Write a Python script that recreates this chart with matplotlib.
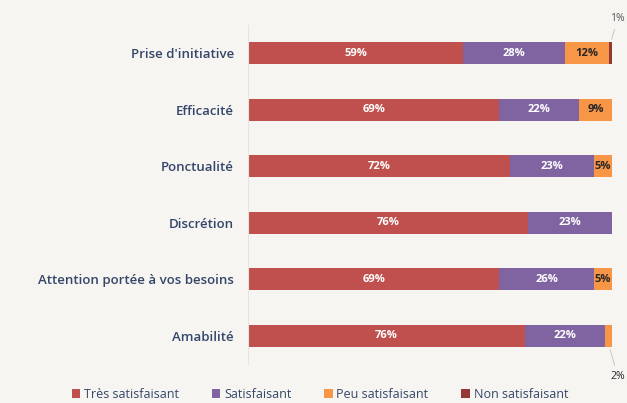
import numpy as np
import matplotlib.pyplot as plt

categories = ["Prise d'initiative", "Efficacité", "Ponctualité", "Discrétion",
              "Attention portée à vos besoins", "Amabilité"]
tres = [59, 69, 72, 76, 69, 76]
satis = [28, 22, 23, 23, 26, 22]
peu = [12, 9, 5, 0, 5, 2]
non = [1, 0, 0, 0, 0, 0]

series = ["Très satisfaisant", "Satisfaisant", "Peu satisfaisant", "Non satisfaisant"]
colors = ["#c0504d", "#8064a2", "#f79646", "#953735"]
txt_colors = ["white", "white", "#262626", "white"]

plt.rcParams['font.family'] = ['Open Sans', 'DejaVu Sans']
bg = "#f6f5f1"
label_col = "#34466a"
fig = plt.figure(figsize=(6.27, 4.03), dpi=100, facecolor=bg)
ax = fig.add_axes([0.3955, 0.097, 0.581, 0.841], facecolor=bg)

y = np.arange(len(categories))[::-1]
data = np.array([tres, satis, peu, non], dtype=float)
# 100% stacked: normalise each row
shares = data / data.sum(axis=0) * 100
left = np.zeros(len(categories))
for vals, raw, name, c, tc in zip(shares, data, series, colors, txt_colors):
    ax.barh(y, vals, left=left, height=0.39, color=c, label=name)
    for yi, l, v, r in zip(y, left, vals, raw):
        if r >= 5:
            ax.text(l + v / 2, yi, f"{int(r)}%", ha='center', va='center',
                    color=tc, fontsize=8, fontweight='bold')
    left += vals

# small values annotated outside
ax.annotate("1%", xy=(99.6, y[0] + 0.2), xytext=(101.5, y[0] + 0.62),
            ha='center', va='center', fontsize=7.5, color="#595959",
            arrowprops=dict(arrowstyle='-', color="#bfbfbf", lw=0.6),
            annotation_clip=False)
ax.annotate("2%", xy=(99.2, y[-1] - 0.2), xytext=(101.5, y[-1] - 0.72),
            ha='center', va='center', fontsize=7.5, color="#262626",
            arrowprops=dict(arrowstyle='-', color="#bfbfbf", lw=0.6),
            annotation_clip=False)

ax.set_xlim(0, 100)
ax.set_ylim(-0.5, len(categories) - 0.5)
ax.set_yticks(y)
ax.set_yticklabels(categories, fontsize=9.5, color=label_col, fontweight='semibold')
ax.tick_params(axis='y', length=0, pad=10)
ax.set_xticks([])
for s in ['top', 'right', 'bottom']:
    ax.spines[s].set_visible(False)
ax.spines['left'].set_color("#e6e4df")
ax.spines['left'].set_linewidth(0.8)

leg = fig.legend(loc='lower center', bbox_to_anchor=(0.51, -0.022), ncol=4, frameon=False,
                 fontsize=9, handlelength=0.7, handleheight=0.7, handletextpad=0.3,
                 columnspacing=2.6)
for t in leg.get_texts():
    t.set_color(label_col)

fig.savefig("out.png", dpi=100, facecolor=bg)
